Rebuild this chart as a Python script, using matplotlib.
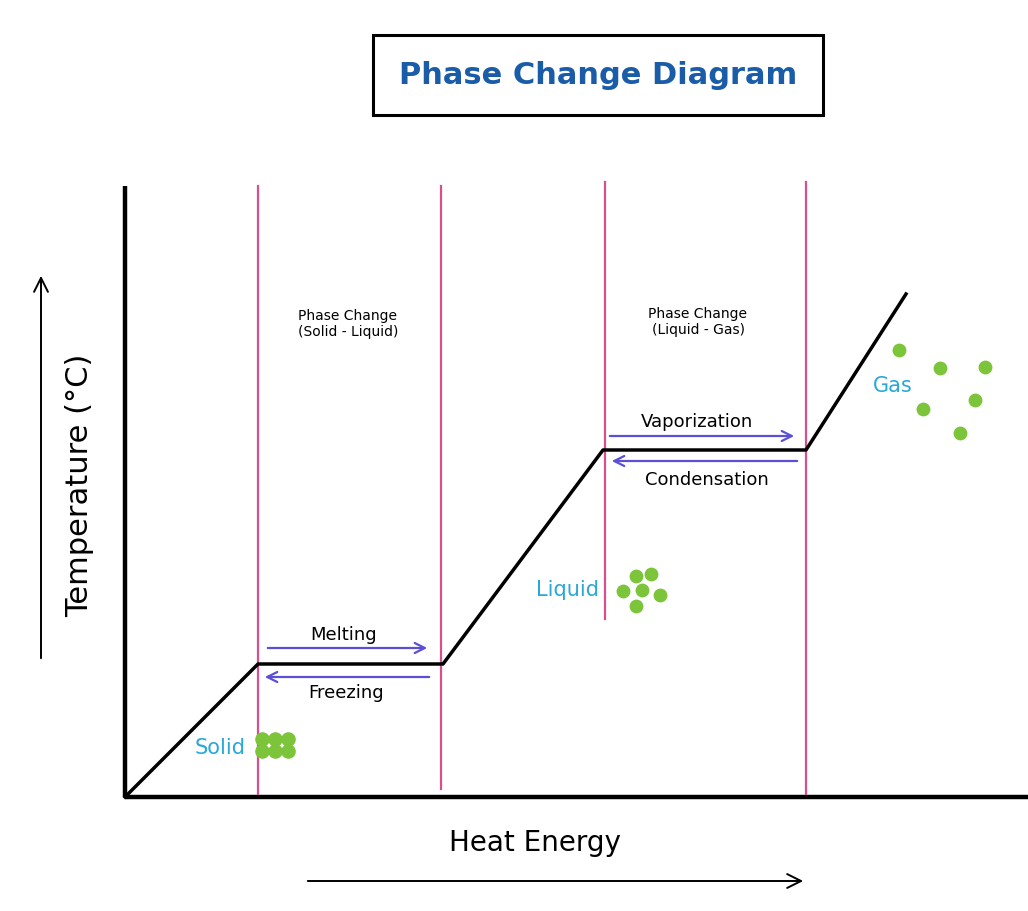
import matplotlib.pyplot as plt

# heating curve (heat energy, temperature) in drawing units
heat = [0, 133, 318, 478, 681, 781]
temp = [0, 133, 133, 347, 347, 503]

phase_lines = [133, 316, 480, 681]
phase_tops = [611, 611, 615, 615]
phase_bottoms = [3, 8, 178, 3]

solid_x = [137, 150, 163, 137, 150, 163]
solid_y = [58, 58, 58, 46, 46, 46]
liquid_x = [498, 511, 526, 517, 535, 511]
liquid_y = [206, 221, 223, 207, 202, 191]
gas_x = [774, 815, 860, 798, 850, 835]
gas_y = [447, 429, 430, 388, 397, 364]

purple = '#5b4fd6'
pink = '#d6508f'
green = '#7cc43a'
blue = '#2aa8d8'

fig = plt.figure(figsize=(10.28, 9.12), dpi=100)
ax = fig.add_axes([0, 0, 1, 1])
ax.set_xlim(-125, 903)
ax.set_ylim(-114, 798)
ax.axis('off')

# axes
ax.plot([0, 0], [0, 611], color='black', lw=3.2, solid_capstyle='butt')
ax.plot([0, 903], [0, 0], color='black', lw=3.2, solid_capstyle='butt')

for x, t, b in zip(phase_lines, phase_tops, phase_bottoms):
    ax.plot([x, x], [b, t], color=pink, lw=1.6)

ax.plot(heat, temp, color='black', lw=2.5)

def arrow(x0, x1, y):
    ax.annotate('', xy=(x1, y), xytext=(x0, y),
                arrowprops=dict(arrowstyle='->', color=purple, lw=1.6, mutation_scale=18))

arrow(140, 305, 149)
arrow(307, 137, 120)
arrow(482, 672, 361)
arrow(675, 484, 336)

ax.text(219, 163, 'Melting', ha='center', va='center', fontsize=13)
ax.text(221, 105, 'Freezing', ha='center', va='center', fontsize=13)
ax.text(572, 376, 'Vaporization', ha='center', va='center', fontsize=13)
ax.text(582, 318, 'Condensation', ha='center', va='center', fontsize=13)

ax.text(223, 474, 'Phase Change\n(Solid - Liquid)', ha='center', va='center', fontsize=10)
ax.text(573, 476, 'Phase Change\n(Liquid - Gas)', ha='center', va='center', fontsize=10)

ax.text(95, 50, 'Solid', ha='center', va='center', fontsize=15, color=blue)
ax.text(442, 208, 'Liquid', ha='center', va='center', fontsize=15, color=blue)
ax.text(768, 412, 'Gas', ha='center', va='center', fontsize=15, color=blue)

ax.scatter(solid_x, solid_y, s=90, color=green, zorder=3)
ax.scatter(liquid_x, liquid_y, s=80, color=green, zorder=3)
ax.scatter(gas_x, gas_y, s=80, color=green, zorder=3)

# axis labels and arrows
ax.text(-45, 313, 'Temperature (°C)', rotation=90, ha='center', va='center', fontsize=22)
ax.annotate('', xy=(-84, 524), xytext=(-84, 136),
            arrowprops=dict(arrowstyle='->', color='black', lw=1.4, mutation_scale=25))
ax.text(410, -45, 'Heat Energy', ha='center', va='center', fontsize=20)
ax.annotate('', xy=(681, -84), xytext=(180, -84),
            arrowprops=dict(arrowstyle='->', color='black', lw=1.4, mutation_scale=25))

# title box
ax.text(473, 722, 'Phase Change Diagram', ha='center', va='center', fontsize=22,
        fontweight='bold', color='#1a5ca8',
        bbox=dict(boxstyle='square,pad=0.85', facecolor='white', edgecolor='black', lw=2.2))

fig.savefig('out.png', dpi=100)
